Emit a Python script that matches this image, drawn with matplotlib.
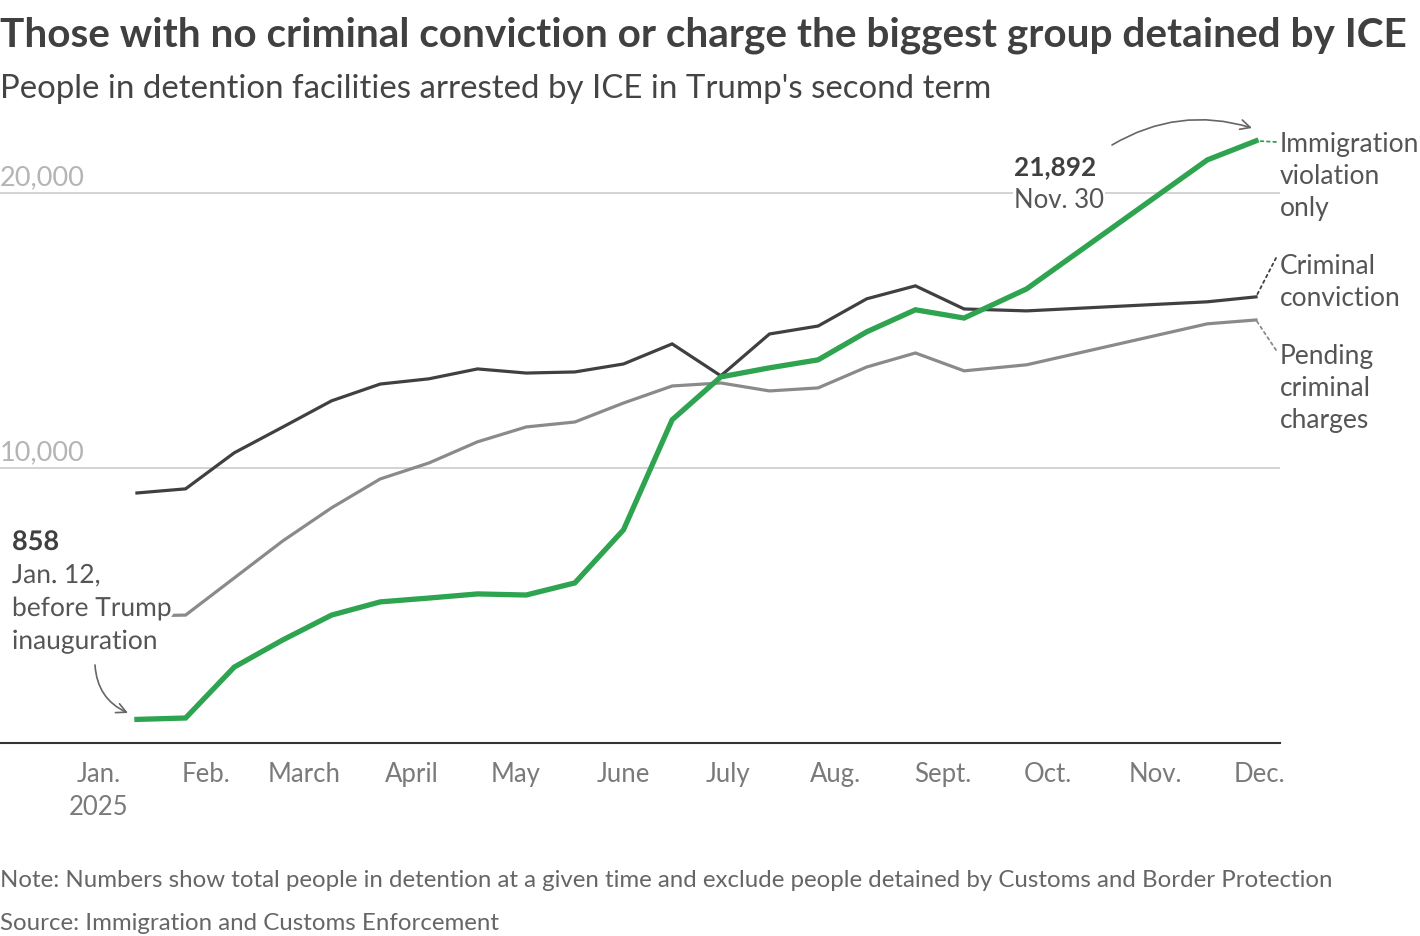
import numpy as np
import matplotlib
matplotlib.use('Agg')
import matplotlib.pyplot as plt
import matplotlib.dates as mdates
import matplotlib.patheffects as pe
from matplotlib.transforms import blended_transform_factory

plt.rcParams['font.family'] = ['Lato', 'DejaVu Sans']

# ---- data ----
dates = ['2025-01-12', '2025-01-26', '2025-02-09', '2025-02-23', '2025-03-09',
         '2025-03-23', '2025-04-06', '2025-04-20', '2025-05-04', '2025-05-18',
         '2025-06-01', '2025-06-15', '2025-06-29', '2025-07-13', '2025-07-27',
         '2025-08-10', '2025-08-24', '2025-09-07', '2025-09-25', '2025-11-16',
         '2025-11-30']
immigration_only = [858, 909, 2760, 3750, 4650, 5130, 5270, 5420, 5380, 5820,
                    7750, 11750, 13310, 13640, 13930, 14950, 15750, 15450,
                    16510, 21200, 21892]
criminal_conviction = [9090, 9240, 10550, 11490, 12440, 13050, 13240, 13600,
                       13450, 13490, 13780, 14510, 13350, 14870, 15160, 16150,
                       16620, 15780, 15710, 16040, 16220]
pending_charges = [4620, 4650, 6000, 7350, 8550, 9600, 10180, 10950, 11490,
                   11670, 12360, 12980, 13090, 12800, 12910, 13670, 14180,
                   13530, 13750, 15240, 15380]

month_ticks = ['2025-01-01', '2025-02-01', '2025-03-01', '2025-04-01',
               '2025-05-01', '2025-06-01', '2025-07-01', '2025-08-01',
               '2025-09-01', '2025-10-01', '2025-11-01', '2025-12-01']
month_labels = ['Jan.\n2025', 'Feb.', 'March', 'April', 'May', 'June', 'July',
                'Aug.', 'Sept.', 'Oct.', 'Nov.', 'Dec.']
grid_values = [10000, 20000]

GREEN = '#2ea350'
DARK = '#404040'
GREY = '#8a8a8a'
TEXT = '#555555'

W, H = 1420, 936


def fx(x):
    return x / W


def fy(y):
    return 1 - y / H


x = mdates.datestr2num(dates)

fig = plt.figure(figsize=(W / 100, H / 100), dpi=100)
ax = fig.add_axes([0, fy(743), fx(1280), (743 - 120) / H])

ax.plot(x, pending_charges, color=GREY, lw=2.3, solid_joinstyle='miter', zorder=2)
ax.plot(x, criminal_conviction, color=DARK, lw=2.3, solid_joinstyle='miter', zorder=3)
ax.plot(x, immigration_only, color=GREEN, lw=3.8, solid_joinstyle='miter', zorder=4)

x0 = x[0]
ax.set_xlim(x0 - 39.4, x0 + 328.9)
ax.set_ylim(0, 22650)

for side in ['top', 'right', 'left']:
    ax.spines[side].set_visible(False)
ax.spines['bottom'].set_color('#333333')
ax.spines['bottom'].set_linewidth(1.5)
ax.spines['bottom'].set_zorder(5)

ax.set_yticks([])
for g in grid_values:
    ax.axhline(g, color='#cccccc', lw=1.2, zorder=1)
trans = blended_transform_factory(ax.transAxes, ax.transData)
for g in grid_values:
    ax.text(0.0, g + 290, f'{g:,}', transform=trans, fontsize=19.5,
            color='#b4b4b4', va='baseline', ha='left')

ax.set_xticks(mdates.datestr2num(month_ticks))
ax.set_xticklabels(month_labels)
ax.tick_params(axis='x', length=0, pad=14, labelsize=18.5, labelcolor='#7a7a7a')
for lab in ax.get_xticklabels():
    lab.set_linespacing(1.4)

# ---- title / subtitle / notes ----
fig.text(fx(0), fy(46), 'Those with no criminal conviction or charge the biggest group detained by ICE',
         fontsize=29.2, fontweight='bold', color=DARK, va='baseline')
fig.text(fx(0), fy(98), "People in detention facilities arrested by ICE in Trump's second term",
         fontsize=23.8, color='#444444', va='baseline')
fig.text(fx(0), fy(887), 'Note: Numbers show total people in detention at a given time and exclude people detained by Customs and Border Protection',
         fontsize=17.3, color='#666666', va='baseline')
fig.text(fx(0), fy(930), 'Source: Immigration and Customs Enforcement',
         fontsize=17.3, color='#666666', va='baseline')

# ---- right-hand series labels ----
series_labels = [
    (['Immigration', 'violation', 'only'], 152, immigration_only, GREEN, 142),
    (['Criminal', 'conviction'], 274, criminal_conviction, DARK, 258),
    (['Pending', 'criminal', 'charges'], 364, pending_charges, GREY, 350),
]
for lines, base, vals, col, lead_y in series_labels:
    for i, line in enumerate(lines):
        fig.text(fx(1280), fy(base + 32 * i), line, fontsize=19,
                 color=TEXT, va='baseline')
    ax.annotate('', xy=(x[-1], vals[-1]), xycoords='data',
                xytext=(fx(1276), fy(lead_y)), textcoords='figure fraction',
                arrowprops=dict(arrowstyle='-', color=col, lw=1.3,
                                linestyle=(0, (1.5, 2)), shrinkA=0, shrinkB=0))

# ---- annotations ----
fig.text(fx(1014), fy(175), f'{immigration_only[-1]:,}', fontsize=18.8,
         fontweight='bold', color=DARK, va='baseline')
fig.text(fx(1014), fy(208), 'Nov. 30', fontsize=18.5, color=TEXT, va='baseline',
         bbox=dict(facecolor='white', edgecolor='none', pad=1))
ax.annotate('', xy=(fx(1252), fy(128)), xycoords='figure fraction',
            xytext=(fx(1112), fy(145)), textcoords='figure fraction',
            arrowprops=dict(arrowstyle='->,head_length=0.7,head_width=0.35',
                            color='#666666', lw=1.2,
                            connectionstyle='arc3,rad=-0.22',
                            shrinkA=0, shrinkB=0))

halo = [pe.withStroke(linewidth=5, foreground='white')]
fig.text(fx(12), fy(550), f'{immigration_only[0]:,}', fontsize=19.5,
         fontweight='bold', color=DARK, va='baseline', path_effects=halo)
for i, line in enumerate(['Jan. 12,', 'before Trump', 'inauguration']):
    fig.text(fx(12), fy(583 + 33 * i), line, fontsize=19,
             color=TEXT, va='baseline', path_effects=halo, zorder=10)
ax.annotate('', xy=(fx(128), fy(713)), xycoords='figure fraction',
            xytext=(fx(95), fy(665)), textcoords='figure fraction',
            arrowprops=dict(arrowstyle='->,head_length=0.7,head_width=0.35',
                            color='#666666', lw=1.2,
                            connectionstyle='arc3,rad=0.3',
                            shrinkA=0, shrinkB=0))

fig.savefig('out.png', dpi=100)
